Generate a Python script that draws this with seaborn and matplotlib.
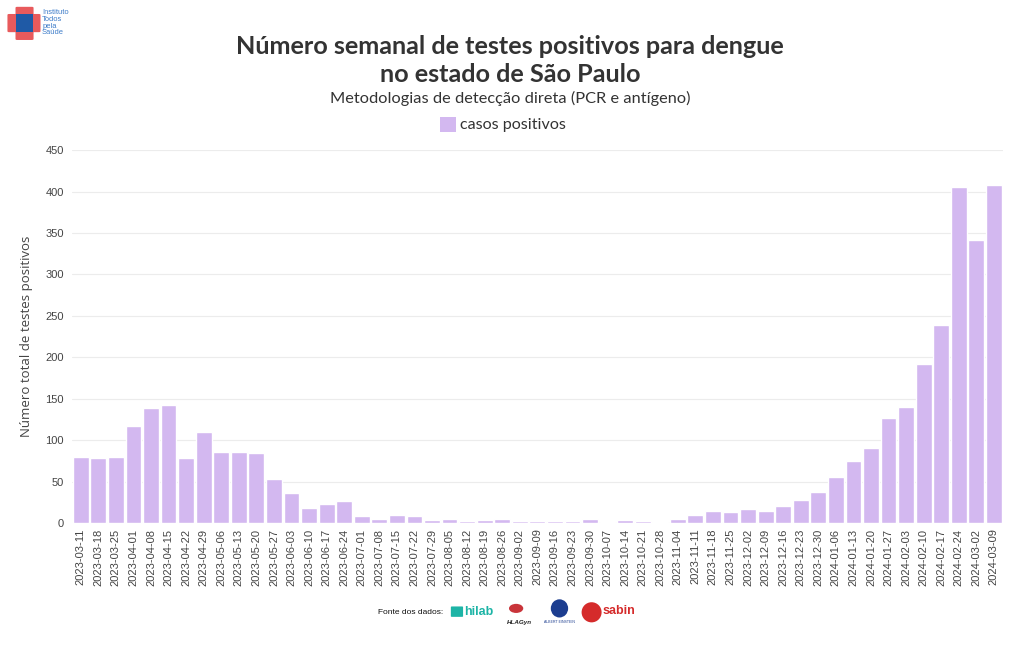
"""Weekly positive dengue tests in São Paulo state, bar chart."""

import matplotlib.pyplot as plt
import matplotlib.patches as mpatches
import seaborn as sns
import pandas as pd

WEEKS = [
    "2023-03-11", "2023-03-18", "2023-03-25", "2023-04-01", "2023-04-08", "2023-04-15",
    "2023-04-22", "2023-04-29", "2023-05-06", "2023-05-13", "2023-05-20", "2023-05-27",
    "2023-06-03", "2023-06-10", "2023-06-17", "2023-06-24", "2023-07-01", "2023-07-08",
    "2023-07-15", "2023-07-22", "2023-07-29", "2023-08-05", "2023-08-12", "2023-08-19",
    "2023-08-26", "2023-09-02", "2023-09-09", "2023-09-16", "2023-09-23", "2023-09-30",
    "2023-10-07", "2023-10-14", "2023-10-21", "2023-10-28", "2023-11-04", "2023-11-11",
    "2023-11-18", "2023-11-25", "2023-12-02", "2023-12-09", "2023-12-16", "2023-12-23",
    "2023-12-30", "2024-01-06", "2024-01-13", "2024-01-20", "2024-01-27", "2024-02-03",
    "2024-02-10", "2024-02-17", "2024-02-24", "2024-03-02", "2024-03-09",
]
POSITIVES = [
    80, 78, 80, 117, 139, 142,
    79, 110, 86, 86, 84, 53,
    36, 18, 23, 26, 8, 5,
    10, 8, 4, 5, 3, 4,
    5, 2, 2, 2, 3, 5,
    1, 4, 3, 1, 5, 10,
    15, 13, 17, 15, 20, 28,
    38, 56, 75, 90, 127, 140,
    192, 239, 405, 342, 408,
]
Y_TICKS = [0, 50, 100, 150, 200, 250, 300, 350, 400, 450]

BAR_COLOR = "#d3b8f0"
TEXT_COLOR = "#333333"
TITLE_FONT = ["Lato", "DejaVu Sans"]

sns.set_theme(style="white")
plt.rcParams["font.family"] = ["Liberation Sans", "DejaVu Sans"]

df = pd.DataFrame({"semana": WEEKS, "casos": POSITIVES})

fig = plt.figure(figsize=(10.2, 6.5), dpi=100)
ax = fig.add_axes([0.0706, 0.1954, 0.9124, 0.5737])
sns.barplot(data=df, x="semana", y="casos", color=BAR_COLOR, width=0.9,
            saturation=1, ax=ax)

ax.set_ylim(0, 450)
ax.set_yticks(Y_TICKS)
ax.yaxis.grid(True, color="#ececec", linewidth=0.8)
ax.set_axisbelow(True)
for s in ax.spines.values():
    s.set_visible(False)
ax.tick_params(axis="x", rotation=90, labelsize=8, colors="#444444", length=0, pad=4)
ax.tick_params(axis="y", labelsize=8, colors="#444444", length=0, pad=6)
ax.set_xlabel("")
ax.set_ylabel("Número total de testes positivos", fontsize=9.5, color="#444444",
              family=["Open Sans", "DejaVu Sans"], labelpad=9)

# titles
fig.text(0.5, 0.928, "Número semanal de testes positivos para dengue", ha="center", va="center",
         fontsize=18.2, weight="bold", color=TEXT_COLOR, family=TITLE_FONT)
fig.text(0.5, 0.886, "no estado de São Paulo", ha="center", va="center",
         fontsize=18.2, weight="bold", color=TEXT_COLOR, family=TITLE_FONT)
fig.text(0.5, 0.848, "Metodologias de detecção direta (PCR e antígeno)", ha="center", va="center",
         fontsize=11.8, color=TEXT_COLOR, family=TITLE_FONT)

# legend
fig.patches.append(mpatches.Rectangle((0.431, 0.797), 0.016, 0.023, transform=fig.transFigure,
                                      facecolor=BAR_COLOR, edgecolor="none"))
fig.text(0.451, 0.807, "casos positivos", ha="left", va="center", fontsize=11.6,
         color=TEXT_COLOR, family=TITLE_FONT)

# logo top-left
red = "#e85a5c"
fig.patches.append(mpatches.FancyBboxPatch((0.0088, 0.952), 0.0294, 0.025, boxstyle="round,pad=0.0015",
                                           transform=fig.transFigure, facecolor=red, edgecolor="none"))
fig.patches.append(mpatches.FancyBboxPatch((0.0167, 0.940), 0.0147, 0.048, boxstyle="round,pad=0.0015",
                                           transform=fig.transFigure, facecolor=red, edgecolor="none"))
fig.patches.append(mpatches.Rectangle((0.0157, 0.951), 0.0167, 0.028, transform=fig.transFigure,
                                      facecolor="#1f5aa6", edgecolor="none"))
fig.text(0.0412, 0.965, "Instituto\nTodos\npela\nSaúde", ha="left", va="center", fontsize=5.4,
         color="#3d7cc9", linespacing=0.95)

# data sources footer
fig.text(0.371, 0.058, "Fonte dos dados:", ha="left", va="center", fontsize=6, color="#111111")
fig.patches.append(mpatches.FancyBboxPatch((0.443, 0.052), 0.010, 0.014, boxstyle="round,pad=0.001",
                                           transform=fig.transFigure, facecolor="#1db4a6", edgecolor="none"))
fig.text(0.455, 0.058, "hilab", ha="left", va="center", fontsize=9, weight="bold", color="#1db4a6")
fig.text(0.509, 0.043, "HLAGyn", ha="center", va="center", fontsize=4.5, weight="bold",
         style="italic", color="#222222")
fig.patches.append(mpatches.Circle((0.506, 0.064), 0.007, transform=fig.transFigure,
                                   facecolor="#c9343a", edgecolor="none"))
fig.patches.append(mpatches.Ellipse((0.5485, 0.064), 0.017, 0.028, transform=fig.transFigure,
                                    facecolor="#1c3d8f", edgecolor="none"))
fig.text(0.5485, 0.043, "ALBERT EINSTEIN", ha="center", va="center", fontsize=2.5, color="#1c3d8f")
fig.patches.append(mpatches.Ellipse((0.580, 0.058), 0.0196, 0.031, transform=fig.transFigure,
                                    facecolor="#d52b2b", edgecolor="none"))
fig.text(0.591, 0.060, "sabin", ha="left", va="center", fontsize=9, weight="bold", color="#d52b2b")

fig.savefig("out.png", dpi=100, facecolor="white")
